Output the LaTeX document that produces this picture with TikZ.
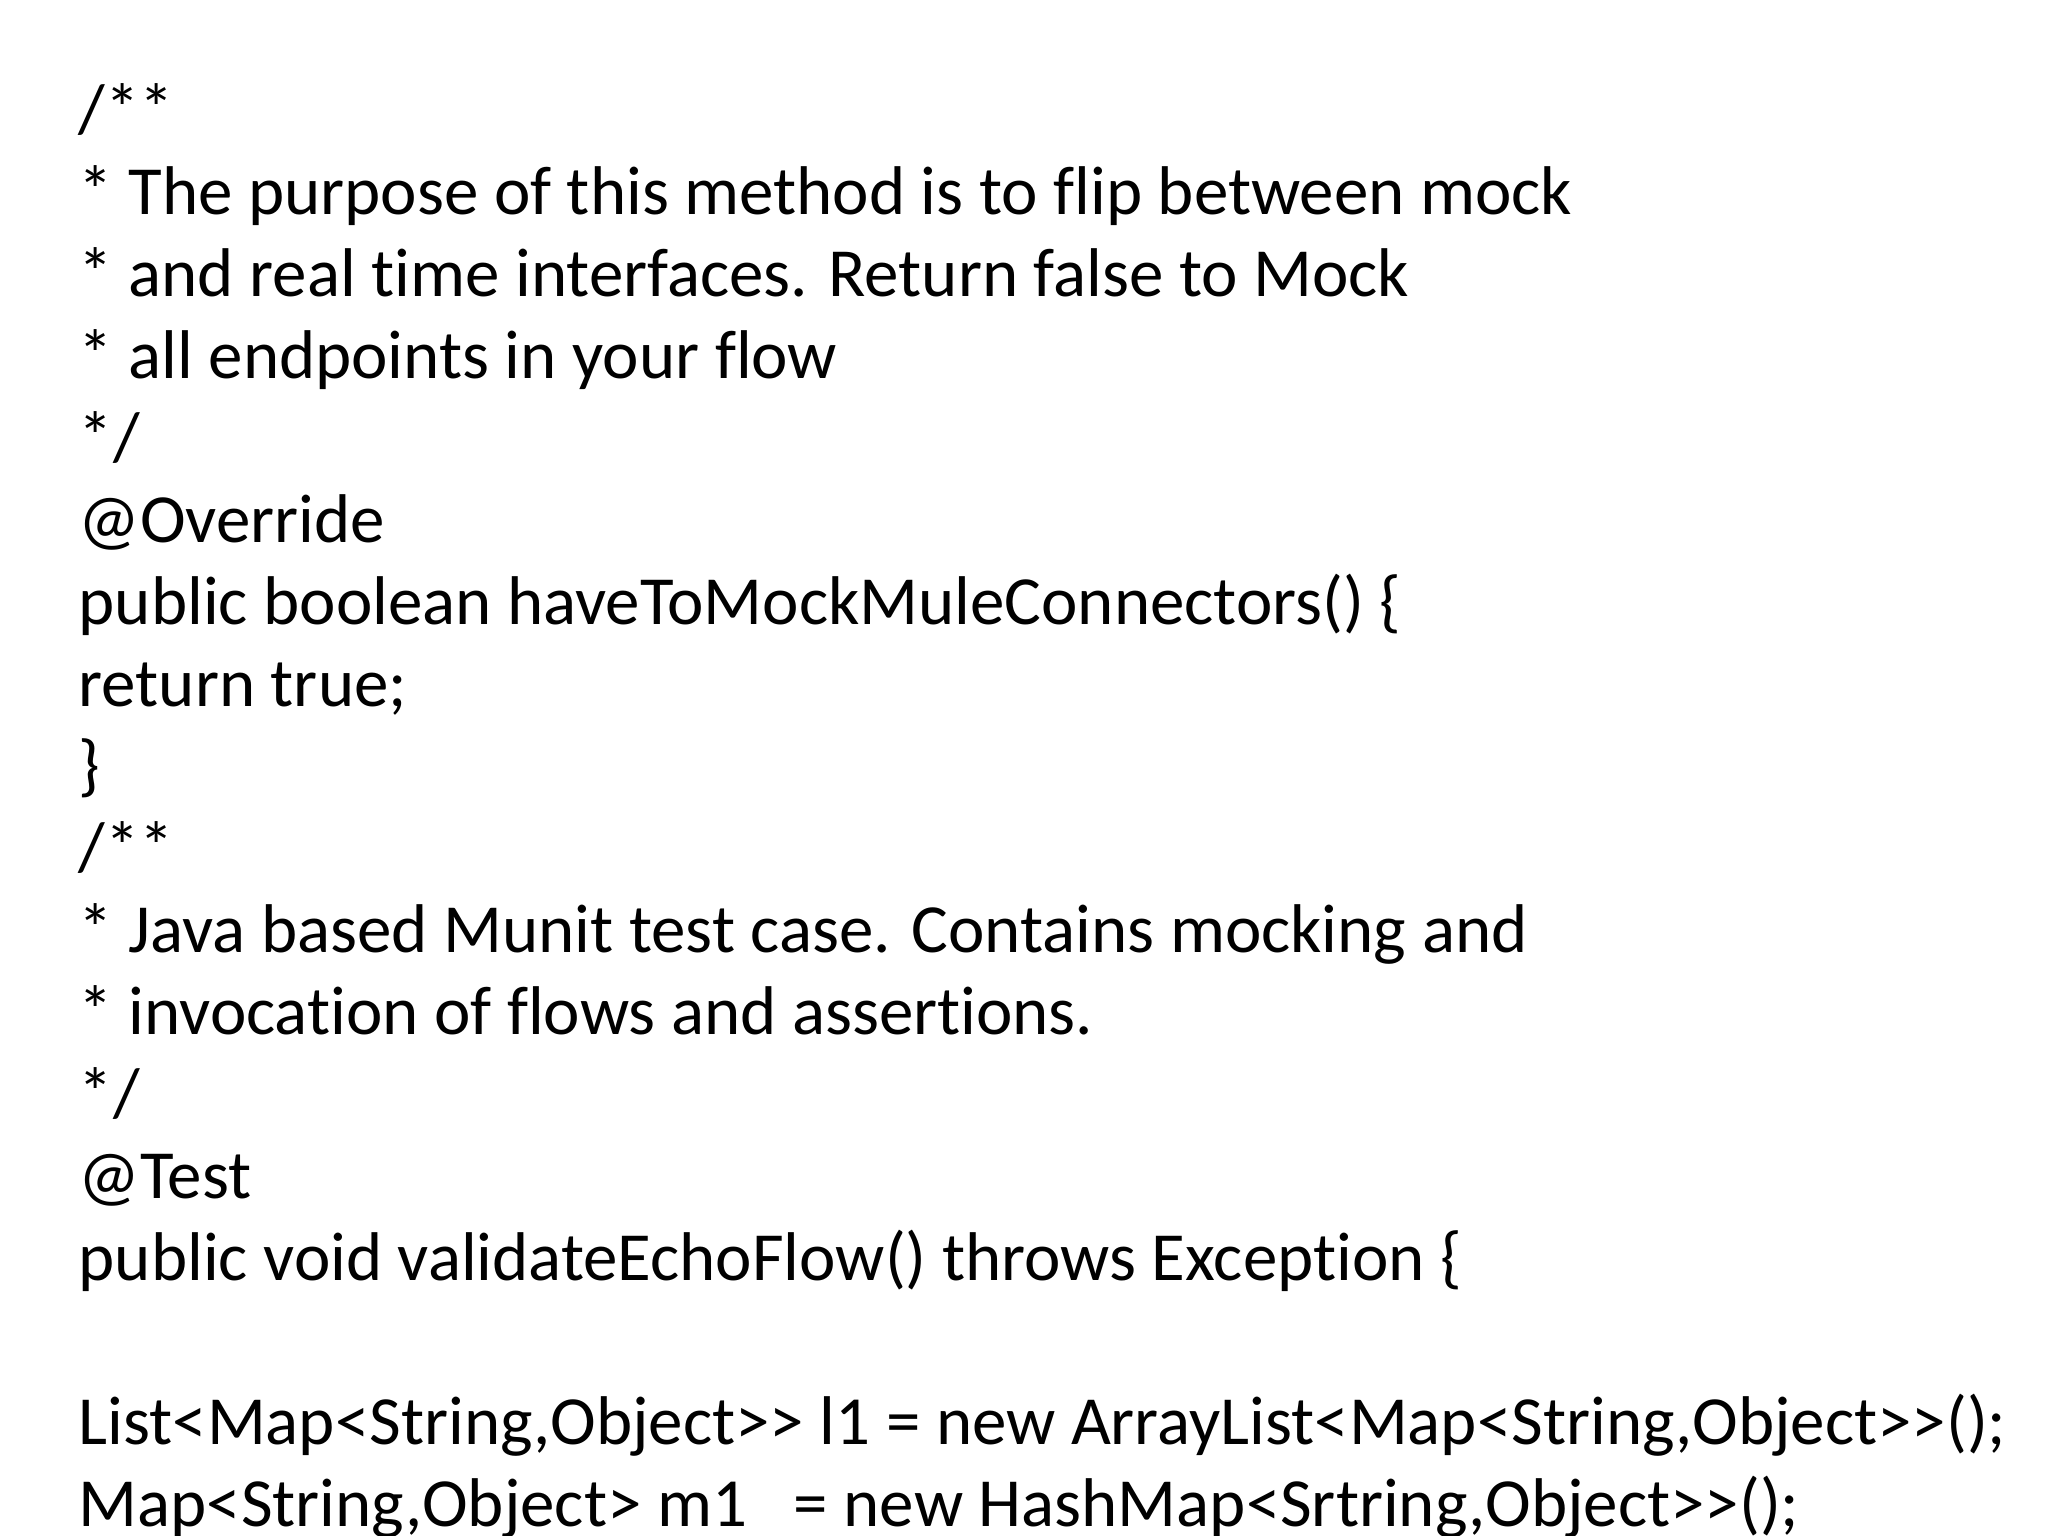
\documentclass[tikz,border=0pt]{standalone}
\usepackage{fontspec}
\setmainfont[Ligatures={NoCommon,TeXOff}]{Carlito}
\begin{document}
\begin{tikzpicture}[x=0.01cm,y=0.01cm,ln/.style={anchor=base west,inner sep=0pt,font=\fontsize{19.6pt}{23pt}\selectfont}]
\useasboundingbox (0,0) rectangle (2048,1536);
\def\L#1#2#3{\node[ln] (#1) at (78,{1536-(215+(#2-2)*82)}) {#3};}
\L{a1}{1}{/**}
\L{a2}{2}{* The purpose of this method is to flip between mock}
\L{a3}{3}{* and real time interfaces. Return false to Mock}
\L{a4}{4}{* all endpoints in your flow}
\L{a5}{5}{*/}
\L{a6}{6}{@Override}
\L{a7}{7}{public boolean haveToMockMuleConnectors() \{}
\L{a8}{8}{return true;}
\L{a9}{9}{\}}
\L{a10}{10}{/**}
\L{a11}{11}{* Java based Munit test case. Contains mocking and}
\L{a12}{12}{* invocation of flows and assertions.}
\L{a13}{13}{*/}
\L{a14}{14}{@Test}
\L{a15}{15}{public void validateEchoFlow() throws Exception \{}
\L{a17}{17}{List<Map<String,Object>{}> l1 = new ArrayList<Map<String,Object>{}>();}
\L{a18}{18}{Map<String,Object> m1\ \ \ = new HashMap<Srtring,Object>{}>();}
\end{tikzpicture}
\end{document}
